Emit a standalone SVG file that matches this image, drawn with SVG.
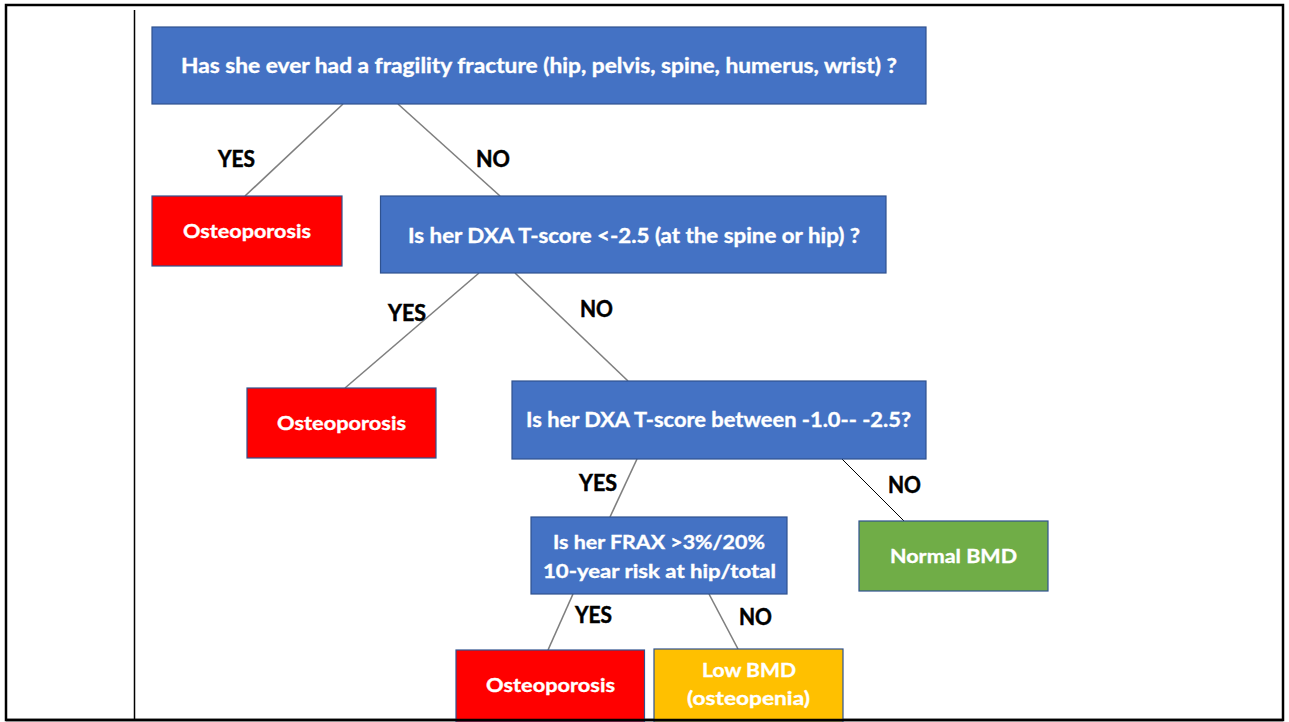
<svg xmlns="http://www.w3.org/2000/svg" width="1289" height="722" viewBox="0 0 1289 722">
<style>
.blue{fill:#4472c4;stroke:#2f528f;stroke-width:1.2}
.red{fill:#ff0000;stroke:#2f528f;stroke-width:1.2}
.green{fill:#70ad47;stroke:#2f528f;stroke-width:1.2}
.yellow{fill:#ffc000;stroke:#2f528f;stroke-width:1.2}
.t{font-family:Lato,"Open Sans","Liberation Sans",sans-serif;font-weight:bold;fill:#ffffff;stroke:#ffffff;stroke-width:0.35;text-anchor:middle}
.lbl{font-family:Lato,"Open Sans","Liberation Sans",sans-serif;font-weight:bold;fill:#000000;stroke:#000000;stroke-width:0.5;font-size:22px}
.c{stroke:#7f7f7f;stroke-width:1.6;fill:none}
.cb{stroke:#000000;stroke-width:1;fill:none}
</style>
<rect x="0" y="0" width="1289" height="722" fill="#ffffff"/>
<g id="frame">
<rect x="6" y="5" width="1277" height="715" fill="none" stroke="#000" stroke-width="2.5"/>
<line x1="134.5" y1="10" x2="134.5" y2="720" stroke="#000" stroke-width="1.5"/>
</g>
<g id="connectors">
<line class="c" x1="343" y1="104" x2="245" y2="196"/>
<line class="c" x1="398" y1="104" x2="500" y2="196"/>
<line class="c" x1="479" y1="273" x2="345" y2="388"/>
<line class="c" x1="515" y1="273" x2="628" y2="381"/>
<line class="c" x1="637" y1="459" x2="610" y2="517"/>
<line class="cb" x1="842" y1="459" x2="904" y2="521"/>
<line class="c" x1="573" y1="594" x2="548" y2="650"/>
<line class="c" x1="709" y1="594" x2="738" y2="649"/>
</g>
<g id="labels">
<text class="lbl" x="218" y="167" textLength="37" lengthAdjust="spacingAndGlyphs">YES</text>
<text class="lbl" x="476" y="167" textLength="34" lengthAdjust="spacingAndGlyphs">NO</text>
<text class="lbl" x="388" y="321" textLength="38" lengthAdjust="spacingAndGlyphs">YES</text>
<text class="lbl" x="580" y="317" textLength="33" lengthAdjust="spacingAndGlyphs">NO</text>
<text class="lbl" x="579" y="491" textLength="38" lengthAdjust="spacingAndGlyphs">YES</text>
<text class="lbl" x="888" y="493" textLength="33" lengthAdjust="spacingAndGlyphs">NO</text>
<text class="lbl" x="575" y="623" textLength="37" lengthAdjust="spacingAndGlyphs">YES</text>
<text class="lbl" x="739" y="625" textLength="33" lengthAdjust="spacingAndGlyphs">NO</text>
</g>
<g id="q1">
<rect class="blue" x="152" y="27" width="774" height="77"/>
<text class="t" x="539" y="73" font-size="20" textLength="716" lengthAdjust="spacingAndGlyphs">Has she ever had a fragility fracture (hip, pelvis, spine, humerus, wrist) ?</text>
</g>
<g id="osteo1">
<rect class="red" x="152" y="196" width="190" height="70"/>
<text class="t" x="247" y="238" font-size="19.5" textLength="128" lengthAdjust="spacingAndGlyphs">Osteoporosis</text>
</g>
<g id="q2">
<rect class="blue" x="380.5" y="196" width="505.5" height="77"/>
<text class="t" x="634" y="243" font-size="20" textLength="452" lengthAdjust="spacingAndGlyphs">Is her DXA T-score &lt;-2.5 (at the spine or hip) ?</text>
</g>
<g id="osteo2">
<rect class="red" x="247" y="388" width="189" height="70"/>
<text class="t" x="341.5" y="430" font-size="19.5" textLength="129" lengthAdjust="spacingAndGlyphs">Osteoporosis</text>
</g>
<g id="q3">
<rect class="blue" x="512" y="381" width="414" height="78"/>
<text class="t" x="718.5" y="427" font-size="20" textLength="385" lengthAdjust="spacingAndGlyphs">Is her DXA T-score between -1.0-- -2.5?</text>
</g>
<g id="q4">
<rect class="blue" x="531" y="517" width="256" height="77"/>
<text class="t" x="659" y="549" font-size="18" textLength="212" lengthAdjust="spacingAndGlyphs">Is her FRAX &gt;3%/20%</text>
<text class="t" x="659.5" y="578" font-size="18" textLength="233" lengthAdjust="spacingAndGlyphs">10-year risk at hip/total</text>
</g>
<g id="normal">
<rect class="green" x="859" y="521" width="189" height="70"/>
<text class="t" x="953.5" y="563" font-size="19.5" textLength="127" lengthAdjust="spacingAndGlyphs">Normal BMD</text>
</g>
<g id="osteo3">
<rect class="red" x="456" y="650" width="188.5" height="72"/>
<text class="t" x="550.5" y="692" font-size="19.5" textLength="129" lengthAdjust="spacingAndGlyphs">Osteoporosis</text>
</g>
<g id="lowbmd">
<rect class="yellow" x="654" y="649" width="189" height="73"/>
<text class="t" x="749" y="677" font-size="19.5" textLength="94" lengthAdjust="spacingAndGlyphs">Low BMD</text>
<text class="t" x="748.5" y="705" font-size="19.5" textLength="123" lengthAdjust="spacingAndGlyphs">(osteopenia)</text>
</g>
<line x1="6" y1="720" x2="1283" y2="720" stroke="#000" stroke-width="2.5"/>
</svg>
